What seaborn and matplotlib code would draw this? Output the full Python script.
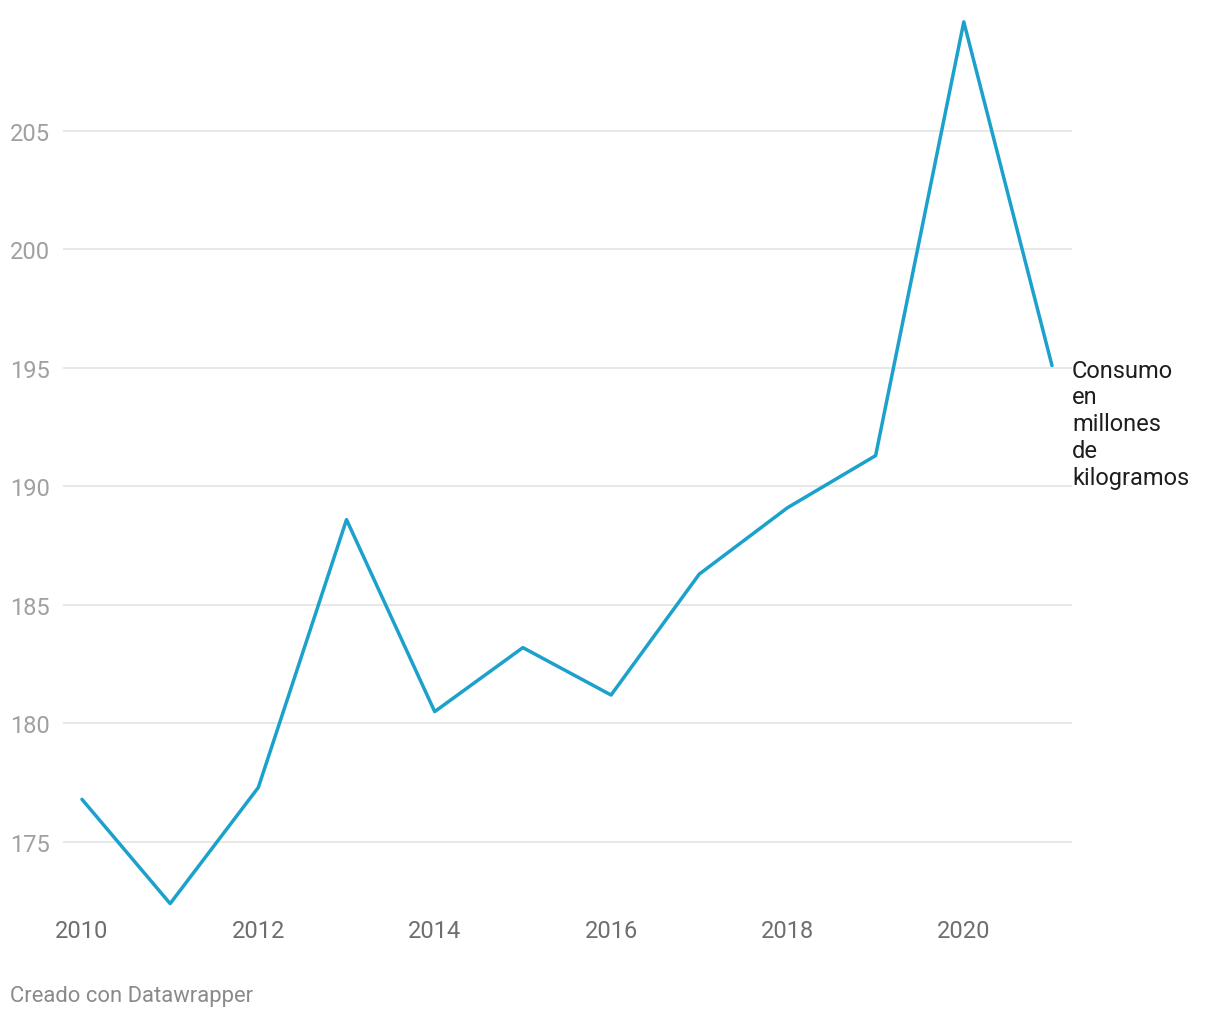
import matplotlib
matplotlib.use("Agg")
import matplotlib.pyplot as plt
import seaborn as sns
import pandas as pd

# data
years = [2010, 2011, 2012, 2013, 2014, 2015, 2016, 2017, 2018, 2019, 2020, 2021]
consumo = [176.8, 172.4, 177.3, 188.6, 180.5, 183.2, 181.2, 186.3, 189.1, 191.3, 209.6, 195.1]
y_ticks = [175, 180, 185, 190, 195, 200, 205]
x_ticks = [2010, 2012, 2014, 2016, 2018, 2020]
label = "Consumo\nen\nmillones\nde\nkilogramos"
footer = "Creado con Datawrapper"

df = pd.DataFrame({"year": years, "consumo": consumo})

sns.set_style("white")
plt.rcParams["font.family"] = ["Roboto", "DejaVu Sans"]

fig = plt.figure(figsize=(12.2, 10.2), dpi=100)
ax = fig.add_axes([63 / 1220, 1 - 911 / 1020, (1072 - 63) / 1220, (911 - 16) / 1020])

sns.lineplot(data=df, x="year", y="consumo", ax=ax, color="#1ba1cc", linewidth=2.5)

ax.set_xlim(2009.785, 2021.227)
ax.set_ylim(172.13, 209.89)
ax.set_yticks(y_ticks)
ax.set_xticks(x_ticks)
ax.set_xlabel("")
ax.set_ylabel("")

ax.grid(axis="y", color="#e2e2e2", linewidth=1.1)
ax.grid(axis="x", visible=False)
ax.set_axisbelow(True)
for s in ax.spines.values():
    s.set_visible(False)

ax.tick_params(axis="y", length=0, pad=9.5, labelsize=17, labelcolor="#a0a0a0")
ax.tick_params(axis="x", length=0, pad=6.5, labelsize=17, labelcolor="#6e6e6e")

# label at the end of the line
ax.annotate(label, xy=(years[-1], consumo[-1]), xytext=(14.5, 5),
            textcoords="offset points", ha="left", va="top",
            fontsize=17, color="#1e1e1e", linespacing=1.21)

fig.text(10 / 1220, 1 - 997 / 1020, footer, ha="left", va="center",
         fontsize=15.8, color="#8a8a8a")

fig.savefig("out.png", dpi=100, facecolor="white")
